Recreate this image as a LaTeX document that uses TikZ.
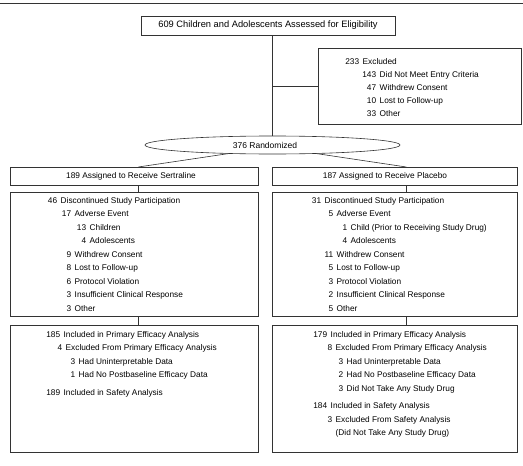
\documentclass[tikz,border=0pt]{standalone}
\usepackage{fontspec}
\setmainfont{Liberation Sans}
\usetikzlibrary{shapes.geometric}
\newcommand\ent[3]{\hspace*{#1pt}\llap{#2}\hspace{3.5pt}#3}
\begin{document}
\begin{tikzpicture}[x=1pt,y=-1pt,
  line/.style={draw=black!80, line width=0.6pt},
  frame/.style={line, rectangle, inner sep=0pt, anchor=north west},
  txt/.style={inner sep=0pt, font=\fontsize{8.3}{13.5}\selectfont, text=black},
  lst/.style={txt, align=left, anchor=north west}]
\useasboundingbox (0,0) rectangle (523,466);
\fill[white] (0,0) rectangle (523,466);
\draw[line, line width=1pt] (0,3) -- (523,3);

% boxes
\node[frame, minimum width=254pt, minimum height=19pt] (top) at (141,16) {};
\node[frame, minimum width=203pt, minimum height=76pt] (excl) at (318,48) {};
\node[ellipse, line, inner sep=0pt, minimum width=255pt, minimum height=18pt] (ell) at (272.5,145) {};
\node[frame, minimum width=248pt, minimum height=18pt] (sert) at (10,167) {};
\node[frame, minimum width=245pt, minimum height=18pt] (plac) at (272,167) {};
\node[frame, minimum width=248pt, minimum height=124pt] (discL) at (10,192) {};
\node[frame, minimum width=245pt, minimum height=124pt] (discR) at (272,192) {};
\node[frame, minimum width=248pt, minimum height=127pt] (anaL) at (10,325) {};
\node[frame, minimum width=245pt, minimum height=127pt] (anaR) at (272,325) {};

% texts
\node[txt, font=\fontsize{9.3}{11}\selectfont] (toptxt) at (268,25.5) {609 Children and Adolescents Assessed for Eligibility};
\node[lst, font=\fontsize{8.3}{13}\selectfont] (excltxt) at (359,57.8) {%
\ent{0}{233}{Excluded}\\
\ent{17}{143}{Did Not Meet Entry Criteria}\\
\ent{17}{47}{Withdrew Consent}\\
\ent{17}{10}{Lost to Follow-up}\\
\ent{17}{33}{Other}};
\node[txt, font=\fontsize{8.5}{11}\selectfont] (elltxt) at (265,145.5) {376 Randomized};
\node[txt] (serttxt) at (131,176) {189 Assigned to Receive Sertraline};
\node[txt] (plactxt) at (385,176) {187 Assigned to Receive Placebo};

\node[lst] (discLtxt) at (57,196.8) {%
\ent{0}{46}{Discontinued Study Participation}\\
\ent{14}{17}{Adverse Event}\\
\ent{29}{13}{Children}\\
\ent{29}{4}{Adolescents}\\
\ent{14}{9}{Withdrew Consent}\\
\ent{14}{8}{Lost to Follow-up}\\
\ent{14}{6}{Protocol Violation}\\
\ent{14}{3}{Insufficient Clinical Response}\\
\ent{14}{3}{Other}};
\node[lst] (discRtxt) at (321,196.8) {%
\ent{0}{31}{Discontinued Study Participation}\\
\ent{12}{5}{Adverse Event}\\
\ent{26}{1}{Child (Prior to Receiving Study Drug)}\\
\ent{26}{4}{Adolescents}\\
\ent{12}{11}{Withdrew Consent}\\
\ent{12}{5}{Lost to Follow-up}\\
\ent{12}{3}{Protocol Violation}\\
\ent{12}{2}{Insufficient Clinical Response}\\
\ent{12}{5}{Other}};
\node[lst] (anaLtxt) at (60,331) {%
\ent{0}{185}{Included in Primary Efficacy Analysis}\\
\ent{2}{4}{Excluded From Primary Efficacy Analysis}\\
\ent{15}{3}{Had Uninterpretable Data}\\
\ent{15}{1}{Had No Postbaseline Efficacy Data}\\[4pt]
\ent{0}{189}{Included in Safety Analysis}};
\node[lst] (anaRtxt) at (327,331) {%
\ent{0}{179}{Included in Primary Efficacy Analysis}\\
\ent{5}{8}{Excluded From Primary Efficacy Analysis}\\
\ent{16}{3}{Had Uninterpretable Data}\\
\ent{16}{2}{Had No Postbaseline Efficacy Data}\\
\ent{16}{3}{Did Not Take Any Study Drug}\\[4pt]
\ent{0}{184}{Included in Safety Analysis}\\
\ent{5}{3}{Excluded From Safety Analysis}\\
\ent{5}{}{(Did Not Take Any Study Drug)}};

% connectors
\draw[line] (top.south -| ell.north) -- (ell.north);
\draw[line] (ell.north |- excl.west) -- (excl.west);
\draw[line] (ell.191) -- ([xshift=4pt]sert.north);
\draw[line] (ell.349) -- ([xshift=11.5pt]plac.north);
\draw[line] ([xshift=4pt]sert.south) -- ([xshift=4pt]sert.south |- discL.north);
\draw[line] ([xshift=11.5pt]plac.south) -- ([xshift=11.5pt]plac.south |- discR.north);
\draw[line] ([xshift=4pt]discL.south) -- ([xshift=4pt]discL.south |- anaL.north);
\draw[line] ([xshift=11.5pt]discR.south) -- ([xshift=11.5pt]discR.south |- anaR.north);
\end{tikzpicture}
\end{document}
